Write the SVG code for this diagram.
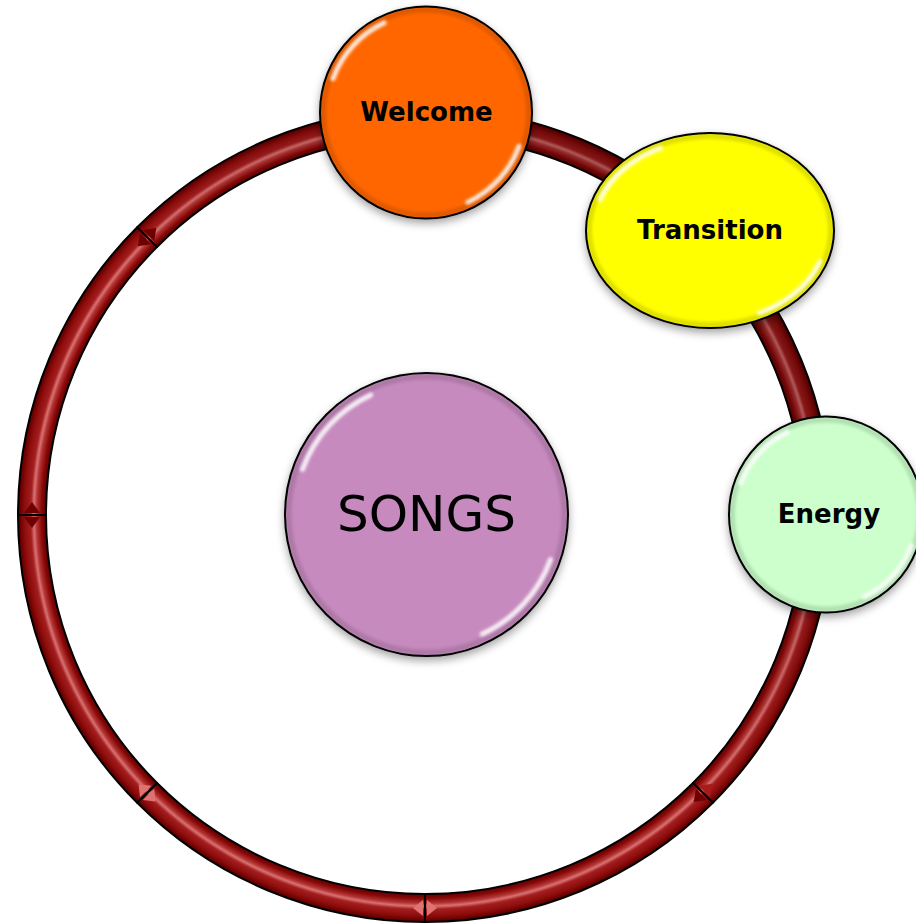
<svg xmlns="http://www.w3.org/2000/svg" width="916" height="924" viewBox="0 0 916 924">
<defs>
<radialGradient id="ringGrad" gradientUnits="userSpaceOnUse" cx="425" cy="515" r="407">
<stop offset="0.931" stop-color="#5a0000"/>
<stop offset="0.942" stop-color="#880808"/>
<stop offset="0.954" stop-color="#b43434"/>
<stop offset="0.961" stop-color="#d87272"/>
<stop offset="0.969" stop-color="#a41e1e"/>
<stop offset="0.985" stop-color="#8c0c0c"/>
<stop offset="0.995" stop-color="#6a0000"/>
<stop offset="1" stop-color="#500000"/>
</radialGradient>
<linearGradient id="shade" gradientUnits="userSpaceOnUse" x1="700" y1="120" x2="150" y2="700">
<stop offset="0" stop-color="#200000" stop-opacity="0.3"/>
<stop offset="0.6" stop-color="#200000" stop-opacity="0"/>
<stop offset="1" stop-color="#200000" stop-opacity="0"/>
</linearGradient>
<filter id="shadow" x="-20%" y="-20%" width="140%" height="150%">
<feDropShadow dx="0" dy="4" stdDeviation="4" flood-color="#000" flood-opacity="0.35"/>
</filter>
<filter id="blur" x="-20%" y="-20%" width="140%" height="140%">
<feGaussianBlur stdDeviation="1.6"/>
</filter>
</defs>
<style>
.seg{fill:url(#ringGrad);stroke:#000;stroke-width:2;stroke-linejoin:round}
.segshade{fill:url(#shade);stroke:none}
.node{stroke:#000;stroke-width:2}
.gloss{fill:none;stroke:#fff;stroke-width:5;stroke-linecap:round;opacity:0.85;filter:url(#blur)}
.rim{fill:none;stroke:#000;stroke-width:6;opacity:0.12;filter:url(#blur)}
.lbl{font-family:"DejaVu Sans","Verdana",sans-serif;font-weight:bold;font-size:26px;fill:#000;text-anchor:middle}
.big{font-family:"DejaVu Sans","Verdana",sans-serif;font-size:50px;fill:#000;text-anchor:middle}
.chevD{fill:#6e0000}
.chevM{fill:#a81c1c}
.chevL{fill:#e07272}
</style>
<g id="connectors">
<path class="seg" d="M832,515 A407,407 0 0 1 712.8,802.8 L693,783 A379,379 0 0 0 804,515 Z"/>
<path class="seg" d="M712.8,802.8 A407,407 0 0 1 425,922 L425,894 A379,379 0 0 0 693,783 Z"/>
<path class="seg" d="M425,922 A407,407 0 0 1 137.2,802.8 L157,783 A379,379 0 0 0 425,894 Z"/>
<path class="seg" d="M137.2,802.8 A407,407 0 0 1 18,515 L46,515 A379,379 0 0 0 157,783 Z"/>
<path class="seg" d="M18,515 A407,407 0 0 1 137.2,227.2 L157,247 A379,379 0 0 0 46,515 Z"/>
<path class="seg" d="M137.2,227.2 A407,407 0 0 1 425,108 L425,136 A379,379 0 0 0 157,247 Z"/>
<path class="seg" d="M425,108 A407,407 0 0 1 712.8,227.2 L693,247 A379,379 0 0 0 425,136 Z"/>
<path class="seg" d="M712.8,227.2 A407,407 0 0 1 832,515 L804,515 A379,379 0 0 0 693,247 Z"/>
<path class="segshade" d="M832,515 A407,407 0 1 1 832,514.9 L804,514.9 A379,379 0 1 0 804,515 Z"/>
<g transform="rotate(45 425 515)">
<polygon class="chevM" points="810,513 826,513 818,502"/>
<polygon class="chevD" points="810,517 826,517 818,528"/>
</g>
<g transform="rotate(90 425 515)">
<polygon class="chevL" points="810,513 826,513 818,503"/>
<polygon class="chevL" points="810,517 826,517 818,527"/>
</g>
<g transform="rotate(135 425 515)">
<polygon class="chevL" points="810,513 826,513 818,503"/>
<polygon class="chevL" points="810,517 826,517 818,527"/>
</g>
<g transform="rotate(180 425 515)">
<polygon class="chevD" points="810,513 826,513 818,502"/>
<polygon class="chevD" points="810,517 826,517 818,528"/>
</g>
<g transform="rotate(225 425 515)">
<polygon class="chevD" points="810,513 826,513 818,502"/>
<polygon class="chevD" points="810,517 826,517 818,528"/>
</g>
</g>
<g id="node-songs">
<circle class="node" cx="426.5" cy="514.5" r="141.5" fill="#c68abe" filter="url(#shadow)"/>
<circle class="rim" cx="426.5" cy="514.5" r="138"/>
<path class="gloss" d="M302.5,469.4 A132,132 0 0 1 370.7,394.9"/>
<path class="gloss" d="M550.5,559.6 A132,132 0 0 1 482.3,634.1"/>
<text class="big" x="426.5" y="531">SONGS</text>
</g>
<g id="node-welcome">
<circle class="node" cx="426" cy="112.5" r="106" fill="#ff6600" filter="url(#shadow)"/>
<circle class="rim" cx="426" cy="112.5" r="103"/>
<path class="gloss" d="M333,78.6 A99,99 0 0 1 384.2,22.8"/>
<path class="gloss" d="M519,146.4 A99,99 0 0 1 467.8,202.2"/>
<text class="lbl" x="426.5" y="121">Welcome</text>
</g>
<g id="node-transition">
<ellipse class="node" cx="710" cy="230.5" rx="124" ry="97.5" fill="#ffff00" filter="url(#shadow)"/>
<ellipse class="rim" cx="710" cy="230.5" rx="121" ry="94.5"/>
<path class="gloss" d="M600.1,199.4 A117,91 0 0 1 660.6,148"/>
<path class="gloss" d="M819.9,261.6 A117,91 0 0 1 759.4,313"/>
<text class="lbl" x="710" y="239">Transition</text>
</g>
<g id="node-energy">
<ellipse class="node" cx="826" cy="514.5" rx="97" ry="98" fill="#ccffcc" filter="url(#shadow)"/>
<ellipse class="rim" cx="826" cy="514.5" rx="94" ry="95"/>
<path class="gloss" d="M740.5,483.4 A90,91 0 0 1 787.5,432"/>
<path class="gloss" d="M911.5,545.6 A90,91 0 0 1 864.5,597"/>
<text class="lbl" x="829" y="523">Energy</text>
</g>
</svg>
